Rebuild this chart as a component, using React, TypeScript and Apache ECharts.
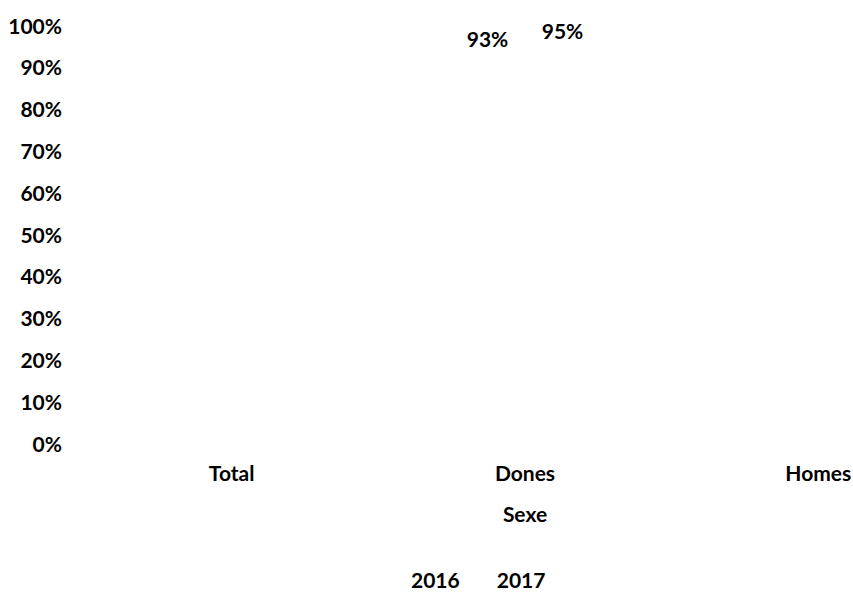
import React, { useEffect, useRef } from "react";
import * as echarts from "echarts";

const categories = ["Total", "Dones", "Homes"];
const seriesNames = ["2016", "2017"];
const values2016: (number | null)[] = [null, 0.93, null];
const values2017: (number | null)[] = [null, 0.95, null];
const yTicks = [0, 0.1, 0.2, 0.3, 0.4, 0.5, 0.6, 0.7, 0.8, 0.9, 1];

const FONT = "Lato";
const TEXT = { color: "#000", fontFamily: FONT, fontWeight: "bold" as const, fontSize: 21 };

export default function App() {
  const ref = useRef<HTMLDivElement>(null);
  useEffect(() => {
    if (!ref.current) return;
    const chart = echarts.init(ref.current, undefined, { renderer: "svg" });
    const pct = (v: number) => Math.round(v * 100) + "%";
    chart.setOption({
      animation: false,
      backgroundColor: "#fff",
      grid: {
        left: 85,
        width: 880,
        top: 25,
        height: 418,
        containLabel: false,
        outerBoundsMode: "none",
      },
      legend: {
        top: 564,
        left: 389,
        itemWidth: 12,
        itemHeight: 12,
        itemGap: 20,
        icon: "rect",
        textStyle: TEXT,
        data: seriesNames,
      },
      xAxis: {
        type: "category",
        data: categories,
        name: "Sexe",
        nameLocation: "middle",
        nameGap: 60,
        nameTextStyle: TEXT,
        axisLine: { show: false },
        axisTick: { show: false },
        axisLabel: { ...TEXT, margin: 19, overflow: "none", hideOverlap: false },
      },
      yAxis: {
        type: "value",
        min: 0,
        max: yTicks[yTicks.length - 1],
        interval: 0.1,
        splitLine: { show: false },
        axisLine: { show: false },
        axisTick: { show: false },
        axisLabel: { ...TEXT, margin: 23, formatter: (v: number) => pct(v) },
      },
      series: [
        {
          name: seriesNames[0],
          type: "bar",
          data: values2016,
          barWidth: 60,
          barGap: "25%",
          itemStyle: { color: "#ffffff" },
          label: { show: true, position: "top", ...TEXT, formatter: (p: any) => pct(p.value) },
        },
        {
          name: seriesNames[1],
          type: "bar",
          data: values2017,
          barWidth: 60,
          itemStyle: { color: "#ffffff" },
          label: { show: true, position: "top", ...TEXT, formatter: (p: any) => pct(p.value) },
        },
      ],
    });
    return () => chart.dispose();
  }, []);
  return (
    <div
      ref={ref}
      style={{ position: "fixed", left: 0, top: 0, width: 853, height: 592, overflow: "hidden" }}
    />
  );
}
